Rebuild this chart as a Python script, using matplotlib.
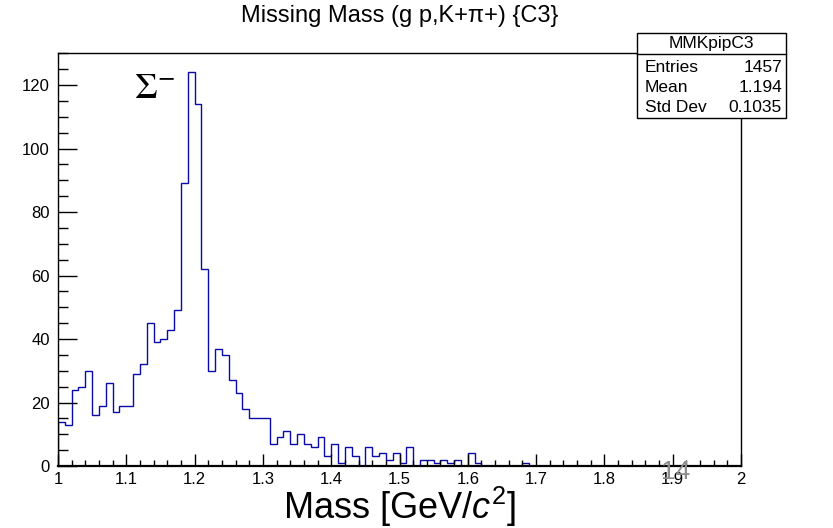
import numpy as np
import matplotlib
matplotlib.use("Agg")
import matplotlib.pyplot as plt
from matplotlib.ticker import MultipleLocator
from matplotlib.patches import Rectangle
from matplotlib.lines import Line2D

plt.rcParams['font.family'] = ['Liberation Sans', 'DejaVu Sans']
plt.rcParams['mathtext.fontset'] = 'custom'
plt.rcParams['mathtext.rm'] = 'Liberation Sans'
plt.rcParams['mathtext.it'] = 'Liberation Sans:italic'

# ---- data ----
bin_low = 1.0
bin_high = 2.0
n_bins = 100
counts = [
    14, 13, 24, 25, 30, 16, 19, 26, 17, 19,   # 1.00-1.10
    19, 29, 32, 45, 39, 40, 43, 49, 89, 124,  # 1.10-1.20
    114, 62, 30, 37, 35, 27, 23, 18, 15, 15,  # 1.20-1.30
    15, 7, 9, 11, 7, 10, 7, 6, 9, 3,          # 1.30-1.40
    7, 1, 6, 3, 0, 6, 3, 4, 2, 4,             # 1.40-1.50
    1, 6, 0, 2, 2, 1, 2, 1, 2, 0,             # 1.50-1.60
    4, 1, 0, 0, 0, 0, 0, 0, 1, 0,             # 1.60-1.70
    0, 0, 0, 0, 0, 0, 0, 0, 0, 0,             # 1.70-1.80
    0, 0, 0, 0, 0, 0, 0, 0, 0, 0,             # 1.80-1.90
    0, 0, 0, 0, 0, 0, 0, 0, 0, 0,             # 1.90-2.00
]
title = "Missing Mass (g p,K+π+) {C3}"
xlabel = "Mass [GeV/$c^{2}$]"
stats_name = "MMKpipC3"
stats_labels = ["Entries", "Mean", "Std Dev"]
stats_values = ["1457", "1.194", "0.1035"]
peak_label = r"$\Sigma^{-}$"
page_number = "14"

edges = np.linspace(bin_low, bin_high, n_bins + 1)

W, H = 833, 528
fig = plt.figure(figsize=(W / 100, H / 100), dpi=100)
L, R, B, T = 58, 741, 466, 52.7
ax = fig.add_axes([L / W, 1 - B / H, (R - L) / W, (B - T) / H])

ax.stairs(counts, edges, color='#0a0aa8', linewidth=1.0)
ax.set_xlim(bin_low, bin_high)
ax.set_ylim(0, 130.2)

ax.xaxis.set_major_locator(MultipleLocator(0.1))
ax.xaxis.set_minor_locator(MultipleLocator(0.02))
ax.yaxis.set_major_locator(MultipleLocator(20))
ax.yaxis.set_minor_locator(MultipleLocator(5))
ax.xaxis.set_major_formatter(plt.FuncFormatter(lambda v, p: f"{v:g}"))
ax.tick_params(axis='x', which='major', direction='in', length=9, width=1, labelsize=12, pad=4)
ax.tick_params(axis='x', which='minor', direction='in', length=4.5, width=1)
ax.tick_params(axis='y', which='major', direction='in', length=14, width=1, labelsize=12, pad=6)
ax.tick_params(axis='y', which='minor', direction='in', length=7, width=1)
for s in ax.spines.values():
    s.set_linewidth(1.0)
ax.spines['bottom'].set_linewidth(1.6)

ax.text(1.112, 116.0, peak_label, fontsize=26, math_fontfamily='stix',
        ha='left', va='baseline')

fig.text(((L + R) / 2) / W, 1 - 16 / H, title, fontsize=17, ha='center', va='center')
fig.text(((L + R) / 2) / W, 1 - 519 / H, xlabel, fontsize=26, ha='center', va='baseline')

# stats box
bx0, bx1, by0, by1 = 637 / W, 786 / W, 1 - 118 / H, 1 - 33 / H
fig.patches.append(Rectangle((bx0, by0), bx1 - bx0, by1 - by0, transform=fig.transFigure,
                             facecolor='white', edgecolor='black', linewidth=1.0, zorder=5))
fig.lines.append(Line2D([bx0, bx1], [1 - 54 / H] * 2, transform=fig.transFigure,
                        color='black', linewidth=1.0, zorder=6))
fig.text((bx0 + bx1) / 2, 1 - 43.5 / H, stats_name, fontsize=12.5, ha='center', va='center', zorder=7)
rows_y = [68, 87.5, 107]
for lab, val, yy in zip(stats_labels, stats_values, rows_y):
    fig.text(645 / W, 1 - yy / H, lab, fontsize=12.5, ha='left', va='center', zorder=7)
    fig.text(782 / W, 1 - yy / H, val, fontsize=12.5, ha='right', va='center', zorder=7)

fig.text(675.5 / W, 1 - 472 / H, page_number, fontsize=19, color='#8c8c8c',
         ha='center', va='center', zorder=8)

fig.savefig("out.png", dpi=100)
